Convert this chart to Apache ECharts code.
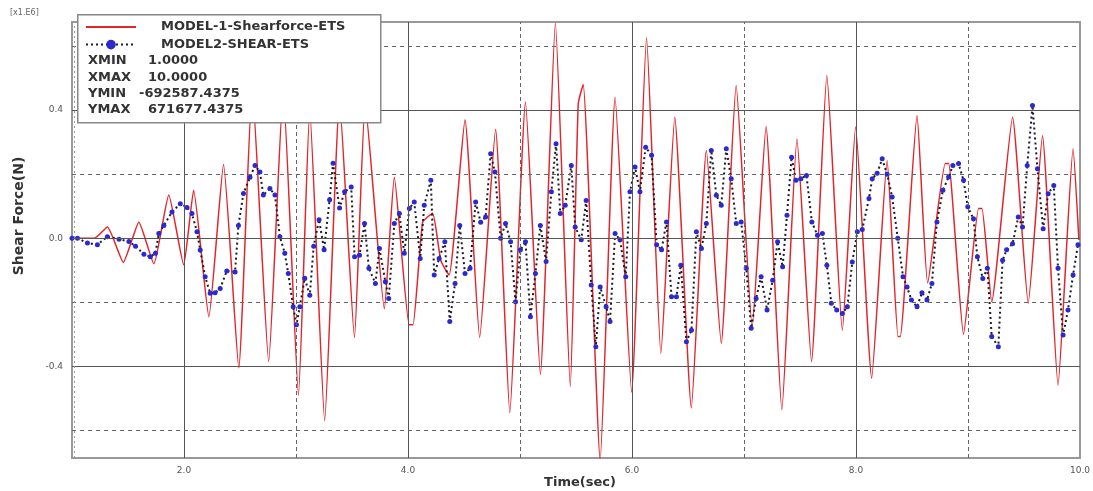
<!DOCTYPE html>
<html>
<head>
<meta charset="utf-8">
<script src="https://cdn.jsdelivr.net/npm/echarts@6/dist/echarts.min.js"></script>
<style>
html,body{margin:0;padding:0;background:#fff;}
#chart{width:1093px;height:491px;}
</style>
</head>
<body>
<div id="chart"></div>
<script>
// ---- data (values in units of 1.E6 N) ----
const seriesNames = ['MODEL-1-Shearforce-ETS', 'MODEL2-SHEAR-ETS'];

const redT = [1.00,1.20,1.316,1.458,1.597,1.731,1.864,1.997,2.086,2.222,2.353,2.489,2.609,2.756,2.886,3.022,3.123,3.256,3.389,3.522,3.618,3.789,3.878,4.010,4.045,4.131,4.220,4.293,4.367,4.509,4.640,4.782,4.909,5.049,5.182,5.316,5.449,5.520,5.564,5.716,5.849,5.997,6.130,6.258,6.382,6.530,6.664,6.797,6.930,7.073,7.197,7.338,7.473,7.603,7.740,7.878,7.997,8.140,8.278,8.375,8.395,8.545,8.640,8.797,8.827,8.960,9.095,9.125,9.212,9.398,9.538,9.665,9.804,9.938,9.990];
const redV = [0.000,0.000,0.035,-0.075,0.050,-0.080,0.135,-0.083,0.150,-0.245,0.230,-0.405,0.470,-0.385,0.460,-0.490,0.400,-0.570,0.430,-0.310,0.420,-0.220,0.190,-0.270,-0.270,0.050,0.078,-0.070,-0.115,0.370,-0.310,0.340,-0.545,0.425,-0.425,0.672,-0.463,0.420,0.480,-0.693,0.440,-0.480,0.627,-0.360,0.378,-0.530,0.274,-0.328,0.477,-0.276,0.349,-0.536,0.310,-0.385,0.508,-0.287,0.347,-0.437,0.243,-0.307,-0.307,0.383,-0.140,0.233,0.233,-0.300,0.093,0.093,-0.198,0.378,-0.203,0.320,-0.458,0.279,-0.005];

const blueT = [1.000,1.049,1.138,1.227,1.316,1.420,1.508,1.567,1.642,1.700,1.745,1.775,1.820,1.893,1.967,2.027,2.071,2.116,2.145,2.189,2.234,2.278,2.323,2.382,2.456,2.486,2.531,2.589,2.634,2.678,2.708,2.767,2.812,2.856,2.900,2.931,2.975,3.004,3.034,3.078,3.123,3.158,3.206,3.251,3.300,3.331,3.389,3.434,3.493,3.523,3.567,3.612,3.651,3.709,3.745,3.798,3.828,3.878,3.923,3.967,4.012,4.056,4.109,4.145,4.204,4.234,4.278,4.329,4.373,4.420,4.462,4.509,4.554,4.604,4.649,4.693,4.738,4.776,4.827,4.871,4.916,4.960,5.004,5.049,5.093,5.138,5.182,5.233,5.280,5.322,5.360,5.404,5.458,5.493,5.547,5.591,5.636,5.677,5.716,5.769,5.804,5.849,5.893,5.944,5.982,6.027,6.071,6.122,6.175,6.220,6.264,6.308,6.353,6.397,6.436,6.486,6.531,6.575,6.620,6.664,6.708,6.753,6.797,6.842,6.886,6.931,6.975,7.020,7.064,7.108,7.153,7.206,7.256,7.300,7.345,7.384,7.425,7.464,7.508,7.558,7.606,7.656,7.700,7.740,7.780,7.828,7.878,7.923,7.967,8.012,8.056,8.116,8.145,8.189,8.234,8.278,8.323,8.373,8.420,8.456,8.495,8.545,8.589,8.634,8.678,8.723,8.776,8.827,8.865,8.916,8.960,8.998,9.049,9.084,9.132,9.173,9.212,9.271,9.309,9.345,9.398,9.449,9.487,9.529,9.576,9.620,9.671,9.716,9.766,9.804,9.849,9.893,9.938,9.982];
const blueV = [0.000,0.000,-0.015,-0.020,0.005,-0.003,-0.010,-0.025,-0.050,-0.058,-0.047,0.015,0.040,0.082,0.108,0.096,0.077,0.020,-0.037,-0.120,-0.172,-0.170,-0.157,-0.102,-0.105,0.040,0.140,0.190,0.227,0.207,0.135,0.155,0.135,0.005,-0.047,-0.110,-0.214,-0.270,-0.214,-0.125,-0.178,-0.025,0.058,-0.036,0.120,0.234,0.094,0.145,0.160,-0.058,-0.053,0.046,-0.094,-0.141,-0.032,-0.136,-0.188,0.046,0.077,-0.047,0.093,0.113,-0.063,0.103,0.181,-0.115,-0.063,-0.011,-0.260,-0.141,0.040,-0.110,-0.094,0.113,0.050,0.066,0.264,0.207,0.000,0.046,-0.011,-0.198,-0.036,-0.011,-0.245,-0.110,0.040,-0.073,0.145,0.295,0.077,0.103,0.227,0.035,-0.005,0.118,-0.146,-0.339,-0.152,-0.214,-0.260,0.015,-0.005,-0.120,0.145,0.222,0.145,0.284,0.259,-0.020,-0.036,0.051,-0.183,-0.183,-0.084,-0.323,-0.287,0.020,-0.032,0.046,0.274,0.134,0.103,0.279,0.186,0.046,0.051,-0.094,-0.281,-0.188,-0.120,-0.224,-0.131,-0.011,-0.089,0.072,0.253,0.181,0.186,0.196,0.051,0.009,0.015,-0.084,-0.203,-0.224,-0.235,-0.214,-0.074,0.020,0.027,0.124,0.186,0.203,0.248,0.200,0.129,0.000,-0.120,-0.152,-0.193,-0.214,-0.170,-0.193,-0.141,0.051,0.150,0.191,0.227,0.233,0.181,0.098,0.061,-0.058,-0.126,-0.094,-0.307,-0.339,-0.069,-0.036,-0.017,0.066,0.035,0.227,0.414,0.217,0.030,0.139,0.165,-0.094,-0.302,-0.224,-0.115,-0.020];

const xTickLabels = [2, 4, 6, 8, 10];
const yTickLabels = [-0.4, 0.0, 0.4];
const xGridSolid = [2, 4, 6, 8];
const xGridDashed = [3, 5, 7, 9];
const yGridSolid = [-0.4, 0, 0.4];
const yGridDashed = [-0.6, -0.2, 0.2, 0.6];
const statNames = ['XMIN', 'XMAX', 'YMIN', 'YMAX'];
const statValues = ['1.0000', '10.0000', '-692587.4375', '671677.4375'];

// ---- build ----
const redData = redT.map((t, i) => [t, redV[i]]);
const blueData = blueT.map((t, i) => [t, blueV[i]]);

const gridLines = [];
xGridSolid.forEach(v => gridLines.push({xAxis: v, lineStyle: {type: 'solid', color: '#555', width: 1}}));
xGridDashed.forEach(v => gridLines.push({xAxis: v, lineStyle: {type: [4, 3], color: '#666', width: 1}}));
yGridSolid.forEach(v => gridLines.push({yAxis: v, lineStyle: {type: 'solid', color: '#555', width: 1}}));
yGridDashed.forEach(v => gridLines.push({yAxis: v, lineStyle: {type: [4, 4], color: '#666', width: 1}}));
gridLines.push({xAxis: 1.025, lineStyle: {type: [2, 3], color: '#999', width: 1}});

const FONT = '"DejaVu Sans", Verdana, sans-serif';
const graphics = [
  {type: 'rect', left: 77, top: 14, shape: {width: 303, height: 108},
   style: {fill: '#fff', stroke: '#888', lineWidth: 1.5}, z: 10},
  {type: 'text', left: 10, top: 9, z: 10,
   style: {text: '[x1.E6]', font: '8px ' + FONT, fill: '#666'}},
  {type: 'text', x: 19, y: 216, rotation: Math.PI / 2, z: 10,
   style: {text: 'Shear Force(N)', font: 'bold 14px ' + FONT, fill: '#333', align: 'center', verticalAlign: 'middle'}},
  {type: 'text', x: 580, y: 483, z: 10,
   style: {text: 'Time(sec)', font: 'bold 13px ' + FONT, fill: '#333', align: 'center', verticalAlign: 'middle'}}
];
const statX = [148, 148, 139, 148];
statNames.forEach((n, i) => {
  graphics.push({type: 'text', x: 88, y: 61 + i * 16.3, z: 11,
    style: {text: n, font: 'bold 13px ' + FONT, fill: '#333', verticalAlign: 'middle'}});
  graphics.push({type: 'text', x: statX[i], y: 61 + i * 16.3, z: 11,
    style: {text: statValues[i], font: 'bold 13px ' + FONT, fill: '#333', verticalAlign: 'middle'}});
});

const chart = echarts.init(document.getElementById('chart'));
chart.setOption({
  animation: false,
  backgroundColor: '#fff',
  grid: {left: 72, right: 6, top: 22, bottom: 33, show: true, borderColor: '#999', borderWidth: 2},
  legend: {
    data: [{name: seriesNames[0], itemStyle: {opacity: 0}}, {name: seriesNames[1]}],
    orient: 'vertical', left: 85, top: 20.5, padding: 0,
    itemWidth: 50, itemHeight: 12, itemGap: 4.6, z: 20,
    textStyle: {fontFamily: FONT, fontWeight: 'bold', fontSize: 13, lineHeight: 12, color: '#333', padding: [0, 0, 0, 20]}
  },
  xAxis: {
    type: 'value', min: 1, max: 10,
    axisLine: {show: false}, axisTick: {show: false}, splitLine: {show: false},
    axisLabel: {customValues: xTickLabels, formatter: v => v.toFixed(1), fontSize: 9, color: '#555', margin: 8, fontFamily: FONT}
  },
  yAxis: {
    type: 'value', min: -0.686, max: 0.675,
    axisLine: {show: false}, axisTick: {show: false}, splitLine: {show: false},
    axisLabel: {customValues: yTickLabels, formatter: v => v.toFixed(1), fontSize: 9, color: '#555', margin: 9, fontFamily: FONT}
  },
  graphic: graphics,
  series: [
    {type: 'line', data: [], silent: true, z: 1,
     markLine: {silent: true, symbol: 'none', label: {show: false}, animation: false, data: gridLines}},
    {name: seriesNames[0], type: 'line', data: redData, symbol: 'none', smooth: 0.15, z: 3,
     lineStyle: {color: '#e3242b', width: 1.5}, itemStyle: {color: '#e3242b'}},
    {name: seriesNames[1], type: 'line', data: blueData, symbol: 'circle', symbolSize: 5, z: 4,
     lineStyle: {color: '#1a1a2a', width: 2, type: [2, 3]}, itemStyle: {color: '#2a2ad0'}}
  ]
});
</script>
</body>
</html>
